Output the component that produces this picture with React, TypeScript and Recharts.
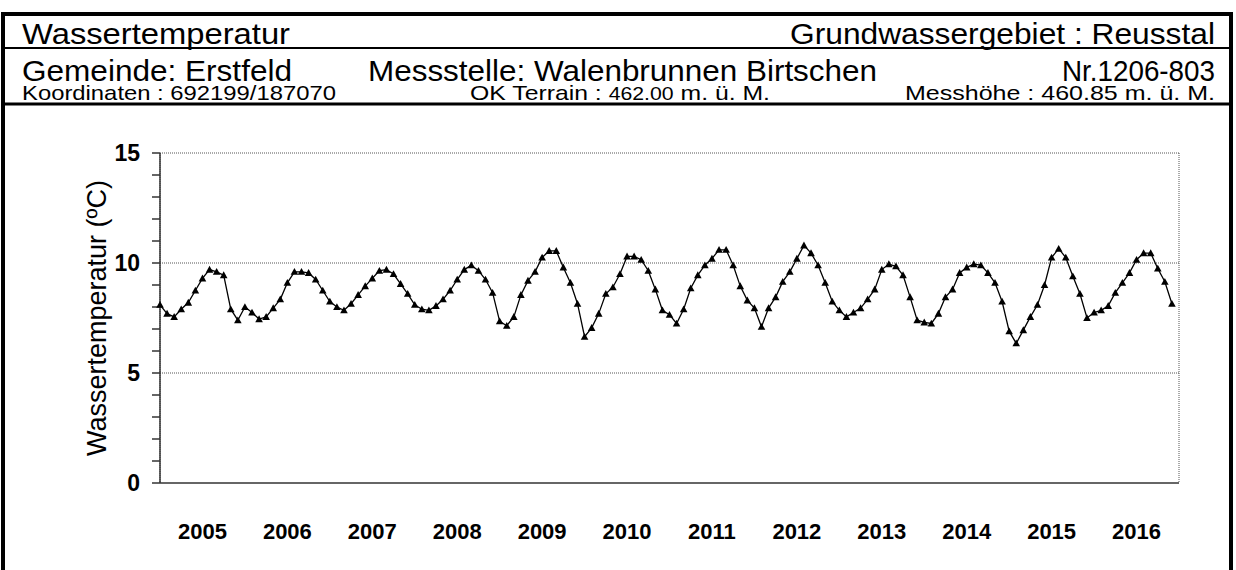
import { CartesianGrid, Line, LineChart, ReferenceLine, XAxis, YAxis } from 'recharts';

const years = ['2005', '2006', '2007', '2008', '2009', '2010', '2011', '2012', '2013', '2014', '2015', '2016'];

const temp2005 = [8.1, 7.7, 7.55, 7.9, 8.2, 8.75, 9.3, 9.7, 9.6, 9.45, 7.9, 7.4];
const temp2006 = [8.0, 7.75, 7.45, 7.55, 7.95, 8.35, 9.1, 9.6, 9.6, 9.55, 9.25, 8.75];
const temp2007 = [8.25, 8.0, 7.85, 8.15, 8.55, 8.95, 9.3, 9.65, 9.7, 9.5, 9.05, 8.6];
const temp2008 = [8.1, 7.9, 7.85, 8.05, 8.35, 8.75, 9.25, 9.7, 9.9, 9.65, 9.25, 8.65];
const temp2009 = [7.35, 7.15, 7.55, 8.55, 9.2, 9.6, 10.25, 10.55, 10.55, 9.8, 9.1, 8.15];
const temp2010 = [6.65, 7.05, 7.7, 8.6, 8.9, 9.5, 10.3, 10.3, 10.15, 9.65, 8.8, 7.85];
const temp2011 = [7.65, 7.25, 7.9, 8.85, 9.45, 9.9, 10.2, 10.6, 10.6, 9.9, 8.95, 8.3];
const temp2012 = [7.95, 7.1, 7.95, 8.45, 9.15, 9.6, 10.2, 10.8, 10.45, 9.9, 9.1, 8.25];
const temp2013 = [7.85, 7.55, 7.75, 7.95, 8.35, 8.8, 9.7, 9.95, 9.85, 9.45, 8.45, 7.4];
const temp2014 = [7.3, 7.25, 7.7, 8.45, 8.8, 9.55, 9.8, 9.95, 9.9, 9.55, 9.1, 8.25];
const temp2015 = [6.9, 6.35, 6.95, 7.55, 8.1, 9.0, 10.25, 10.65, 10.25, 9.4, 8.6, 7.5];
const temp2016 = [7.75, 7.85, 8.05, 8.65, 9.1, 9.55, 10.15, 10.45, 10.45, 9.75, 9.15, 8.15];

const yTicks = [0, 1, 2, 3, 4, 5, 6, 7, 8, 9, 10, 11, 12, 13, 14, 15];
const gridValues = [5, 10, 15];

const allTemps = [
  temp2005, temp2006, temp2007, temp2008, temp2009, temp2010,
  temp2011, temp2012, temp2013, temp2014, temp2015, temp2016,
].flat();
const data = allTemps.map((t, i) => ({ m: i, t }));
const yearBounds = years.map((_, i) => i * 12).concat([years.length * 12]);
const yearMids = years.map((_, i) => i * 12 + 6);

const FONT = '"Liberation Sans", Arial, sans-serif';

const TriangleDot = (props: any) => {
  const { cx, cy, index } = props;
  if (cx == null || cy == null) return <g key={index} />;
  const s = 3.8;
  return (
    <polygon
      key={index}
      points={`${cx},${cy - s} ${cx - s},${cy + s * 0.8} ${cx + s},${cy + s * 0.8}`}
      fill='#000'
    />
  );
};

// header texts are a bit wider in the original, so stretch them to its widths
const Header = () => (
  <svg width={1236} height={570} style={{ position: 'absolute', left: 0, top: 0 }}>
    <rect x={3} y={14} width={1228} height={600} fill='none' stroke='#000' strokeWidth={4} />
    <line x1={3} x2={1231} y1={48} y2={48} stroke='#000' strokeWidth={2} />
    <line x1={3} x2={1231} y1={104} y2={104} stroke='#000' strokeWidth={3} />
    <g fontFamily={FONT} fill='#000'>
      <text x={22} y={44} fontSize={29} textLength={268} lengthAdjust='spacingAndGlyphs'>Wassertemperatur</text>
      <text x={790} y={44} fontSize={29} textLength={425} lengthAdjust='spacingAndGlyphs'>Grundwassergebiet : Reusstal</text>
      <text x={22} y={81} fontSize={29} textLength={270} lengthAdjust='spacingAndGlyphs'>Gemeinde: Erstfeld</text>
      <text x={368} y={81} fontSize={29} textLength={509} lengthAdjust='spacingAndGlyphs'>Messstelle: Walenbrunnen Birtschen</text>
      <text x={1062} y={81} fontSize={29} textLength={153} lengthAdjust='spacingAndGlyphs'>Nr.1206-803</text>
      <text x={22} y={100} fontSize={21} textLength={314} lengthAdjust='spacingAndGlyphs'>Koordinaten : 692199/187070</text>
      <text x={470} y={100} fontSize={21} textLength={300} lengthAdjust='spacingAndGlyphs'>
        OK Terrain : <tspan fontSize={18}>462.00</tspan> m. ü. M.
      </text>
      <text x={905} y={100} fontSize={21} textLength={310} lengthAdjust='spacingAndGlyphs'>Messhöhe : 460.85 m. ü. M.</text>
    </g>
  </svg>
);

export default function App() {
  return (
    <div style={{ position: 'absolute', left: 0, top: 0, width: 1236, height: 570, background: '#fff', overflow: 'hidden' }}>
      <Header />
      <div style={{ position: 'absolute', left: 0, top: 0 }}>
        <LineChart width={1236} height={570} data={data} margin={{ top: 153, right: 57, left: 60, bottom: 0 }}>
          <CartesianGrid xAxisId='m' horizontal={false} stroke='#555' strokeDasharray='1 1' />
          {gridValues.map((v) => (
            <ReferenceLine key={v} xAxisId='m' y={v} stroke='#555' strokeDasharray='1 1' />
          ))}
          <XAxis
            xAxisId='m'
            dataKey='m'
            type='number'
            domain={[0, 144]}
            ticks={yearBounds}
            tick={false}
            tickSize={5}
            height={10}
            stroke='#333'
            strokeWidth={1.5}
          />
          <XAxis
            xAxisId='yr'
            dataKey='m'
            type='number'
            domain={[0, 144]}
            ticks={yearMids}
            interval={0}
            tickFormatter={(v: number) => years[(v - 6) / 12]}
            axisLine={false}
            tickLine={false}
            tickSize={0}
            tickMargin={30}
            height={77}
            tick={{ fill: '#000', fontSize: 22, fontWeight: 'bold', fontFamily: FONT }}
          />
          <YAxis
            type='number'
            domain={[0, 15]}
            ticks={yTicks}
            interval={0}
            tickFormatter={(v: number) => (v % 5 === 0 ? String(v) : '')}
            tickSize={8}
            tickMargin={12}
            width={100}
            stroke='#333'
            strokeWidth={1.5}
            tick={{ fill: '#000', fontSize: 23, fontWeight: 'bold', fontFamily: FONT }}
            label={{
              value: 'Wassertemperatur (ºC)',
              angle: -90,
              position: 'insideLeft',
              offset: 36,
              style: { textAnchor: 'middle', fill: '#000', fontSize: 27, fontFamily: FONT },
            }}
          />
          <Line
            xAxisId='m'
            dataKey='t'
            stroke='#000'
            strokeWidth={1.3}
            dot={<TriangleDot />}
            isAnimationActive={false}
          />
        </LineChart>
      </div>
    </div>
  );
}
